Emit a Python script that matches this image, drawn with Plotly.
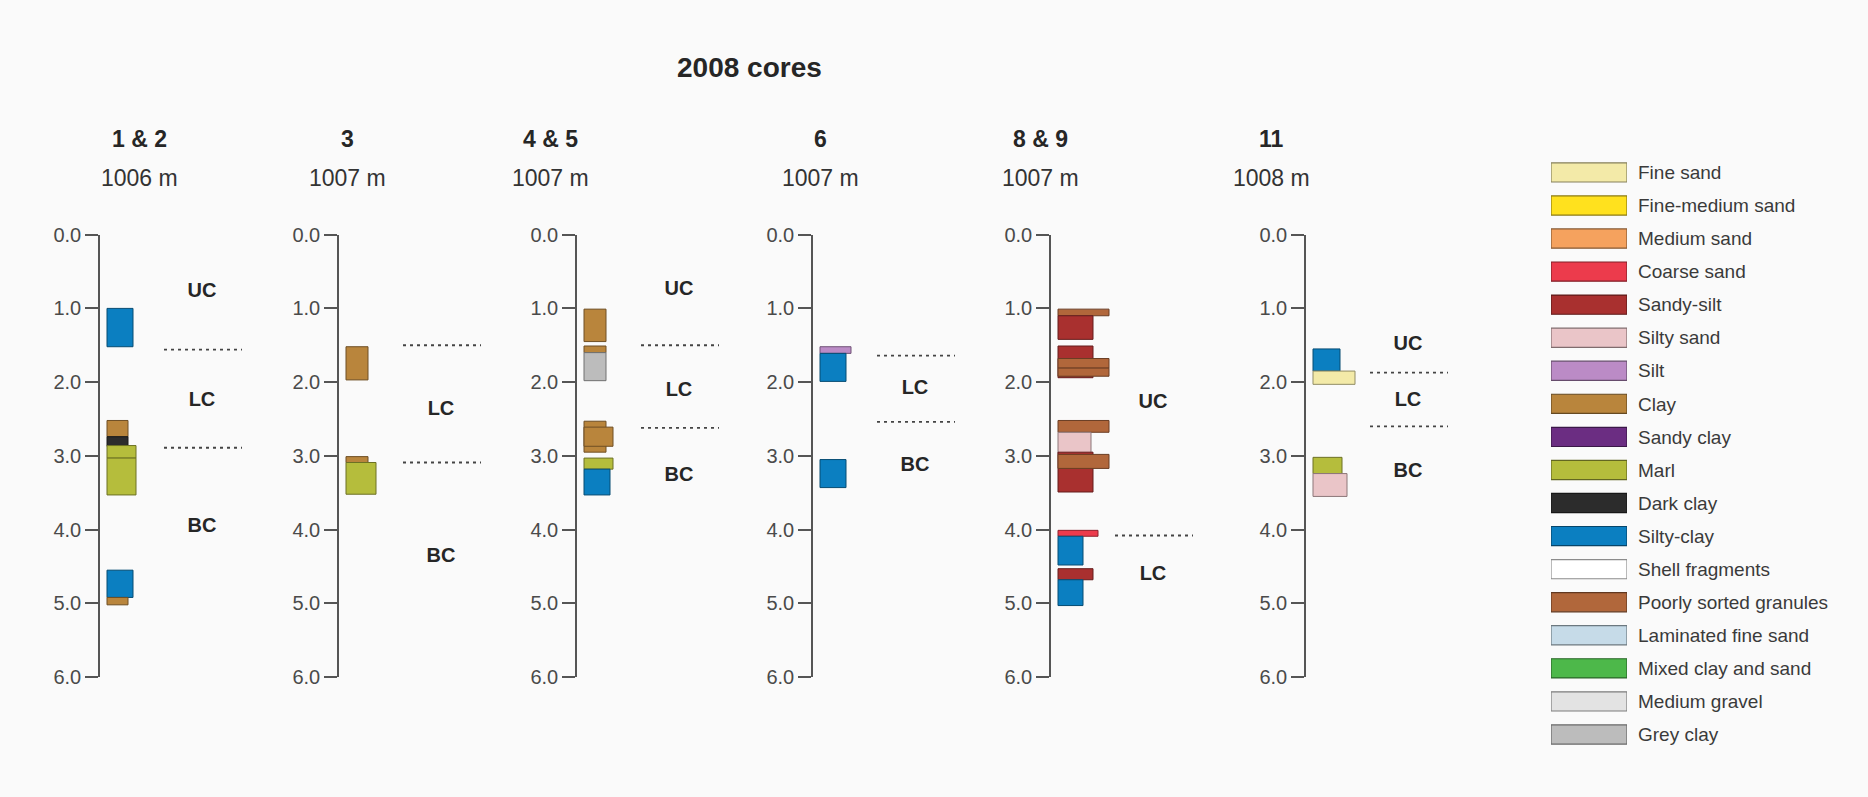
import plotly.graph_objects as go

# ---------------------------------------------------------------- data
LITHOLOGIES = [
    "Fine sand", "Fine-medium sand", "Medium sand", "Coarse sand", "Sandy-silt",
    "Silty sand", "Silt", "Clay", "Sandy clay", "Marl", "Dark clay", "Silty-clay",
    "Shell fragments", "Poorly sorted granules", "Laminated fine sand",
    "Mixed clay and sand", "Medium gravel", "Grey clay",
]
LITH_COLORS = [
    "#f3eaa8", "#ffe11e", "#f5a25e", "#ec3b4c", "#a9302f",
    "#eac5c8", "#bb8bc6", "#b9853c", "#6b2d82", "#b5bd3c", "#2c2c2c", "#0b7fc1",
    "#ffffff", "#b1673b", "#c6dbe8",
    "#4db84a", "#e3e3e3", "#bcbcbc",
]

CORE_NAMES = ["1 & 2", "3", "4 & 5", "6", "8 & 9", "11"]
CORE_ELEVATIONS = ["1006 m", "1007 m", "1007 m", "1007 m", "1007 m", "1008 m"]
DEPTH_TICKS = [0, 1, 2, 3, 4, 5, 6]

# layers: lithology, top depth (m), bottom depth (m), grain-size index
core12_lith = ["Silty-clay", "Clay", "Dark clay", "Marl", "Marl", "Silty-clay", "Clay"]
core12_top = [1.00, 2.52, 2.74, 2.86, 3.03, 4.55, 4.92]
core12_bottom = [1.52, 2.74, 2.87, 3.03, 3.53, 4.92, 5.02]
core12_grain = [26, 21, 21, 29, 29, 26, 21]
core12_bounds = [1.56, 2.89]
core12_zones = ["UC", "LC", "BC"]
core12_zone_depths = [0.78, 2.25, 3.97]

core3_lith = ["Clay", "Clay", "Marl"]
core3_top = [1.52, 3.01, 3.09]
core3_bottom = [1.97, 3.09, 3.52]
core3_grain = [22, 22, 30]
core3_bounds = [1.50, 3.09]
core3_zones = ["LC", "BC"]
core3_zone_depths = [2.38, 4.37]

core45_lith = ["Clay", "Clay", "Grey clay", "Clay", "Clay", "Marl", "Silty-clay"]
core45_top = [1.01, 1.51, 1.60, 2.53, 2.61, 3.03, 3.18]
core45_bottom = [1.45, 1.60, 1.98, 2.95, 2.87, 3.18, 3.53]
core45_grain = [22, 22, 22, 22, 29, 29, 26]
core45_bounds = [1.50, 2.62]
core45_zones = ["UC", "LC", "BC"]
core45_zone_depths = [0.75, 2.12, 3.27]

core6_lith = ["Silt", "Silty-clay", "Silty-clay"]
core6_top = [1.52, 1.61, 3.05]
core6_bottom = [1.61, 1.99, 3.43]
core6_grain = [31, 26, 26]
core6_bounds = [1.64, 2.54]
core6_zones = ["LC", "BC"]
core6_zone_depths = [2.09, 3.14]

core89_lith = [
    "Poorly sorted granules", "Sandy-silt", "Sandy-silt", "Poorly sorted granules",
    "Poorly sorted granules", "Poorly sorted granules", "Silty sand", "Sandy-silt",
    "Poorly sorted granules", "Coarse sand", "Silty-clay", "Sandy-silt", "Silty-clay",
]
core89_top = [1.01, 1.10, 1.51, 1.68, 1.81, 2.52, 2.68, 2.95, 2.98, 4.01, 4.09, 4.53, 4.68]
core89_bottom = [1.10, 1.42, 1.94, 1.81, 1.92, 2.68, 2.98, 3.49, 3.17, 4.09, 4.48, 4.68, 5.03]
core89_grain = [51, 35, 35, 51, 51, 51, 33, 35, 51, 40, 25, 35, 25]
core89_bounds = [4.08]
core89_zones = ["UC", "LC"]
core89_zone_depths = [2.28, 4.61]

core11_lith = ["Silty-clay", "Fine sand", "Marl", "Silty sand"]
core11_top = [1.55, 1.85, 3.02, 3.24]
core11_bottom = [1.85, 2.03, 3.24, 3.55]
core11_grain = [27, 42, 29, 34]
core11_bounds = [1.87, 2.60]
core11_zones = ["UC", "LC", "BC"]
core11_zone_depths = [1.50, 2.25, 3.22]

CORES = [
    (core12_lith, core12_top, core12_bottom, core12_grain, core12_bounds, core12_zones, core12_zone_depths),
    (core3_lith, core3_top, core3_bottom, core3_grain, core3_bounds, core3_zones, core3_zone_depths),
    (core45_lith, core45_top, core45_bottom, core45_grain, core45_bounds, core45_zones, core45_zone_depths),
    (core6_lith, core6_top, core6_bottom, core6_grain, core6_bounds, core6_zones, core6_zone_depths),
    (core89_lith, core89_top, core89_bottom, core89_grain, core89_bounds, core89_zones, core89_zone_depths),
    (core11_lith, core11_top, core11_bottom, core11_grain, core11_bounds, core11_zones, core11_zone_depths),
]

# ---------------------------------------------------------------- layout constants (pixels)
W, H = 1868, 797
BG = "#fafafa"
FONT = "Liberation Sans, Arial, Helvetica, sans-serif"
AXIS_X = [100, 339, 577, 813, 1051, 1306]       # depth axis line of each core
HEADER_X = [139, 347, 550, 820, 1040, 1271]     # centre of core headers
PANEL_W = 170                                   # panel width in px (x data unit = 1 px)
LOG_TOP, LOG_BOTTOM = 230, 685                  # y pixels of 0 m and 6 m
BAR_OFFSET = 7                                  # gap between axis and layers
DOT_X0, DOT_X1, ZONE_X = 64, 142, 102

COLOR_OF = dict(zip(LITHOLOGIES, LITH_COLORS))


def darker(hex_color, f=0.6):
    h = hex_color.lstrip("#")
    r, g, b = (int(h[i:i + 2], 16) for i in (0, 2, 4))
    return "rgb(%d,%d,%d)" % (r * f, g * f, b * f)


def px_x(px):
    return px / W


def px_y(py):
    return 1 - py / H


fig = go.Figure()
layout_axes = {}

for i, (lith, top, bottom, grain, bounds, zones, zone_depths) in enumerate(CORES):
    n = i + 1
    xa, ya = ("x" if n == 1 else f"x{n}"), ("y" if n == 1 else f"y{n}")
    mids = [(t + b) / 2 for t, b in zip(top, bottom)]
    thick = [b - t for t, b in zip(top, bottom)]
    fig.add_trace(go.Bar(
        orientation="h", y=mids, x=grain, width=thick, base=[BAR_OFFSET] * len(grain),
        marker=dict(color=[COLOR_OF[l] for l in lith],
                    line=dict(color=[darker(COLOR_OF[l]) for l in lith], width=1)),
        xaxis=xa, yaxis=ya, showlegend=False, hovertext=lith,
    ))
    # unit boundaries
    for d in bounds:
        fig.add_trace(go.Scatter(
            x=[DOT_X0, DOT_X1], y=[d, d], mode="lines",
            line=dict(color="#444444", width=1.8, dash="3px,4px"),
            xaxis=xa, yaxis=ya, showlegend=False, hoverinfo="skip",
        ))
    # unit labels
    fig.add_trace(go.Scatter(
        x=[ZONE_X] * len(zones), y=zone_depths, mode="text", text=zones,
        textfont=dict(family=FONT, size=20, color="#262626", weight="bold"),
        xaxis=xa, yaxis=ya, showlegend=False, hoverinfo="skip",
    ))
    x0 = AXIS_X[i]
    xkey = "xaxis" if n == 1 else f"xaxis{n}"
    ykey = "yaxis" if n == 1 else f"yaxis{n}"
    layout_axes[xkey] = dict(domain=[px_x(x0), px_x(x0 + PANEL_W)], range=[0, PANEL_W],
                             visible=False, anchor=ya, fixedrange=True)
    layout_axes[ykey] = dict(
        domain=[px_y(LOG_BOTTOM), px_y(LOG_TOP)], range=[6, 0], anchor=xa,
        tickvals=DEPTH_TICKS, ticktext=["%.1f" % v for v in DEPTH_TICKS],
        ticks="outside", ticklen=13, tickwidth=1.6, tickcolor="#555555",
        showline=True, linecolor="#555555", linewidth=1.6, showgrid=False, zeroline=False,
        ticklabelstandoff=0, tickfont=dict(family=FONT, size=20, color="#4a4a4a"),
    )

# lithology key
NLEG = len(LITHOLOGIES)
LEG_X0, LEG_X1 = 1551, 1627
LEG_FIRST, LEG_STEP = 166, 34
n = len(CORES) + 1
fig.add_trace(go.Bar(
    orientation="h", y=LITHOLOGIES, x=[1] * NLEG, base=[0] * NLEG, width=0.58,
    marker=dict(color=LITH_COLORS, line=dict(color=[darker(c, 0.55) for c in LITH_COLORS], width=1.2)),
    xaxis=f"x{n}", yaxis=f"y{n}", showlegend=False, hoverinfo="y",
))
layout_axes[f"xaxis{n}"] = dict(domain=[px_x(LEG_X0), px_x(LEG_X1)], range=[0, 1],
                                visible=False, anchor=f"y{n}")
layout_axes[f"yaxis{n}"] = dict(
    domain=[px_y(LEG_FIRST + (NLEG - 0.5) * LEG_STEP), px_y(LEG_FIRST - 0.5 * LEG_STEP)],
    type="category", categoryorder="array", categoryarray=LITHOLOGIES,
    range=[NLEG - 0.5, -0.5], side="right", anchor=f"x{n}",
    showline=False, showgrid=False, zeroline=False, ticks="",
    ticklabelstandoff=10, tickfont=dict(family=FONT, size=19, color="#3a3a3a"),
)


def label(text, px, py, size, color):
    return dict(text=text, x=px_x(px), y=px_y(py), xref="paper", yref="paper",
                xanchor="center", yanchor="middle", showarrow=False,
                font=dict(family=FONT, size=size, color=color))


annotations = [label("<b>2008 cores</b>", 749, 58, 28, "#262626")]
for name, elev, hx in zip(CORE_NAMES, CORE_ELEVATIONS, HEADER_X):
    annotations.append(label(f"<b>{name}</b>", hx, 132, 23, "#262626"))
    annotations.append(label(elev, hx, 172, 23, "#333333"))

fig.update_layout(
    width=W, height=H, margin=dict(l=0, r=0, t=0, b=0),
    paper_bgcolor=BG, plot_bgcolor=BG, barmode="overlay",
    annotations=annotations, showlegend=False, **layout_axes,
)

fig.write_html(
    "out.html",
    config={"displayModeBar": False},
    post_script="document.body.style.margin='0';document.body.style.background='#fafafa';",
)
